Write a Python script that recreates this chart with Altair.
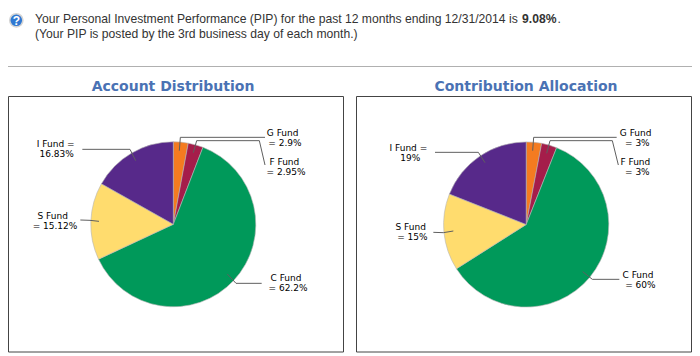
import math
import altair as alt
import pandas as pd

# --- values ---
funds = ["G Fund", "F Fund", "C Fund", "S Fund", "I Fund"]
colors = ["#f47b20", "#a51d4a", "#00995a", "#ffdc6e", "#57298a"]
account_values = [2.9, 2.95, 62.2, 15.12, 16.83]
contribution_values = [3, 3, 60, 15, 19]
account_lines = ["G Fund", "= 2.9%", "F Fund", "= 2.95%", "C Fund", "= 62.2%",
                 "S Fund", "= 15.12%", "I Fund =", "16.83%"]
contribution_lines = ["G Fund", "= 3%", "F Fund", "= 3%", "C Fund", "= 60%",
                      "S Fund", "= 15%", "I Fund =", "19%"]
titles = ["Account Distribution", "Contribution Allocation"]
header_1 = "Your Personal Investment Performance (PIP) for the past 12 months ending 12/31/2014 is"
header_bold = "9.08%"
header_tail = "."
header_2 = "(Your PIP is posted by the 3rd business day of each month.)"

# --- layout (page pixels) ---
OX, OY = 8, 8
W, H = 684, 346
PIES = [dict(cx=173.3, cy=224.3, r=82.5, frame=(8.5, 343.5), title_x=173),
        dict(cx=526.2, cy=224.5, r=82.6, frame=(356.5, 691.5), title_x=526)]
L_POS = [(848, 128), (855, 158), (853, 215), (858, 245), (858, 564), (864, 595),
         (158, 377), (165, 407), (167, 161), (170, 193)]
R_POS = [(857, 128), (862, 158), (856, 215), (862, 245), (864, 554), (871, 584),
         (182, 410), (187, 442), (175, 173), (181, 203)]
L_LEAD = [[(538, 182), (541, 142), (795, 142)],
          [(580, 188), (590, 152), (778, 152), (795, 225)],
          [(682, 552), (708, 580), (785, 580)],
          [(297, 394), (270, 391), (241, 390)],
          [(407, 212), (390, 178), (247, 178)]]
R_LEAD = [[(548, 182), (551, 142), (800, 142)],
          [(590, 190), (600, 152), (787, 152), (805, 225)],
          [(698, 545), (727, 568), (808, 568)],
          [(310, 423), (280, 428), (250, 427)],
          [(405, 218), (385, 187), (255, 187)]]


def px(x):
    return x - OX


def py(y):
    return y - OY


def zoom_pt(pt, base_x):
    return px(pt[0] / 3 + base_x), py(pt[1] / 3 + 90)


layers = []

# header rule
layers.append(alt.Chart(pd.DataFrame({"a": [0]})).mark_rule(color="#b0b0b0", strokeWidth=1).encode(
    x=alt.value(0), x2=alt.value(W), y=alt.value(py(66.5))))

# help icon
icon = pd.DataFrame({"a": [0]})
layers.append(alt.Chart(icon).mark_circle(size=218, color="#d4d4d4", opacity=1).encode(
    x=alt.value(px(16.3)), y=alt.value(py(20.3))))
layers.append(alt.Chart(icon).mark_circle(size=135, color="#2f78d2", opacity=1).encode(
    x=alt.value(px(16.3)), y=alt.value(py(20.3))))
layers.append(alt.Chart(pd.DataFrame({"t": ["?"]})).mark_text(
    font="Liberation Sans", fontSize=12, fontWeight="bold", color="white", baseline="middle").encode(
    x=alt.value(px(16.3)), y=alt.value(py(20.5)), text="t:N"))

# header text
hdr = dict(font="Liberation Sans", fontSize=12.15, color="#333333", align="left", baseline="alphabetic")
for txt, x, y, w in [(header_1, 35, 23, "normal"), (header_bold, 522, 23, "bold"),
                     (header_tail, 557.5, 23, "normal"), (header_2, 35, 37.5, "normal")]:
    layers.append(alt.Chart(pd.DataFrame({"t": [txt]})).mark_text(fontWeight=w, **hdr).encode(
        x=alt.value(px(x)), y=alt.value(py(y)), text="t:N"))

for pie, title, values, lines, pos, lead, base_x in zip(
        PIES, titles, [account_values, contribution_values],
        [account_lines, contribution_lines], [L_POS, R_POS], [L_LEAD, R_LEAD], [0, 350]):
    # title
    layers.append(alt.Chart(pd.DataFrame({"t": [title]})).mark_text(
        font="DejaVu Sans", fontSize=14, fontWeight="bold", color="#4a72b4", baseline="middle").encode(
        x=alt.value(px(pie["title_x"])), y=alt.value(py(87)), text="t:N"))
    # frame
    x0, x1 = pie["frame"]
    layers.append(alt.Chart(pd.DataFrame({"a": [0]})).mark_rect(
        fill="white", fillOpacity=0, stroke="#444444", strokeWidth=1).encode(
        x=alt.value(px(x0)), x2=alt.value(px(x1)), y=alt.value(py(96.5)), y2=alt.value(py(352))))
    # pie
    df = pd.DataFrame({"fund": funds, "value": values, "idx": range(len(funds))})
    layers.append(alt.Chart(df).mark_arc(radius=pie["r"], stroke="#b5b5b5", strokeWidth=0.6).encode(
        theta=alt.Theta("value:Q", stack=True,
                        scale=alt.Scale(domain=[0, 100], range=[0, 2 * math.pi])),
        order=alt.Order("idx:Q"),
        color=alt.Color("fund:N", scale=alt.Scale(domain=funds, range=colors), legend=None),
        x=alt.value(px(pie["cx"])), y=alt.value(py(pie["cy"]))))
    # leaders
    rows = []
    for k, seg in enumerate(lead):
        for i, pt in enumerate(seg):
            X, Y = zoom_pt(pt, base_x)
            rows.append({"k": k, "i": i, "X": X, "Y": Y})
    layers.append(alt.Chart(pd.DataFrame(rows)).mark_line(color="#5f5f5f", strokeWidth=1).encode(
        x=alt.X("X:Q", scale=None, axis=None), y=alt.Y("Y:Q", scale=None, axis=None),
        detail="k:N", order="i:Q"))
    # labels
    rows = []
    for txt, pt in zip(lines, pos):
        X, Y = zoom_pt(pt, base_x)
        rows.append({"t": txt, "X": X, "Y": Y})
    layers.append(alt.Chart(pd.DataFrame(rows)).mark_text(
        font="DejaVu Sans", fontSize=9, color="#000000", baseline="middle").encode(
        x=alt.X("X:Q", scale=None, axis=None), y=alt.Y("Y:Q", scale=None, axis=None), text="t:N"))

chart = alt.layer(*layers).resolve_scale(theta="independent", color="shared").properties(
    width=W, height=H, padding=0, autosize=alt.AutoSizeParams(type="none"),
    background="white").configure_view(stroke=None)

chart.save("out.html", embed_options={"renderer": "svg", "actions": False})
